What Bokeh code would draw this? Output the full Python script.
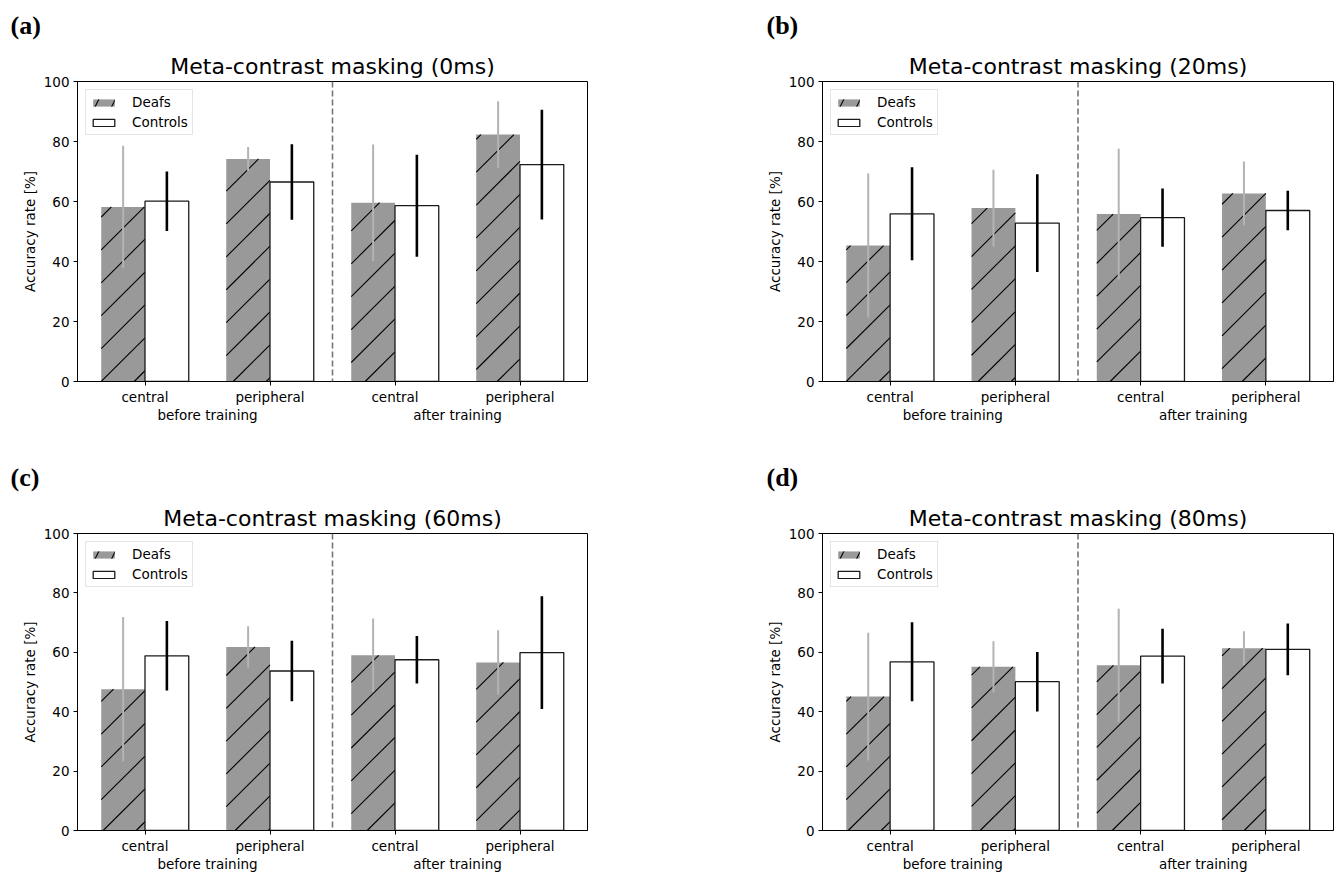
import math
from bokeh.plotting import figure
from bokeh.models import (ColumnDataSource, Range1d, FixedTicker, LinearAxis, Span,
                          Title, Legend, LegendItem)
from bokeh.layouts import column, row
from bokeh.embed import file_html
from bokeh.resources import INLINE

# ---------------- data ----------------
conditions = ["central", "peripheral", "central", "peripheral"]
phases = ["before training", "after training"]
delays = ["0ms", "20ms", "60ms", "80ms"]
panel_tags = ["(a)", "(b)", "(c)", "(d)"]
groups = ["Deafs", "Controls"]

deafs_0ms = [58.2, 74.2, 59.6, 82.3]
deafs_0ms_err = [20.4, 4.0, 19.4, 11.1]
controls_0ms = [60.1, 66.5, 58.6, 72.3]
controls_0ms_err = [9.9, 12.6, 17.0, 18.3]

deafs_20ms = [45.3, 57.8, 55.8, 62.7]
deafs_20ms_err = [24.0, 12.8, 21.8, 10.6]
controls_20ms = [55.9, 52.8, 54.6, 57.0]
controls_20ms_err = [15.5, 16.3, 9.7, 6.6]

deafs_60ms = [47.6, 61.8, 59.0, 56.6]
deafs_60ms_err = [24.3, 7.0, 12.4, 10.8]
controls_60ms = [58.8, 53.7, 57.5, 59.9]
controls_60ms_err = [11.7, 10.2, 8.0, 19.0]

deafs_80ms = [45.1, 55.1, 55.6, 61.4]
deafs_80ms_err = [21.5, 8.6, 19.1, 5.7]
controls_80ms = [56.8, 50.1, 58.7, 61.0]
controls_80ms_err = [13.3, 10.0, 9.2, 8.7]

y_ticks = [0, 20, 40, 60, 80, 100]

FONT = "DejaVu Sans"
BAR_W = 0.35
X0, X1 = -0.54, 3.54
Y0, Y1 = 0, 100
HATCH_SPACING = 33.0   # px between "/" hatch lines
HATCH_PHASE = 27.7


def hatch_segments(xc_list, tops, frame_w, frame_h):
    """45-degree '/' hatch lines (in screen space) clipped to each bar."""
    kx = frame_w / (X1 - X0)
    ky = frame_h / (Y1 - Y0)
    x0s, y0s, x1s, y1s = [], [], [], []
    for xc, top in zip(xc_list, tops):
        L = (xc - BAR_W / 2 - X0) * kx
        R = (xc + BAR_W / 2 - X0) * kx
        T = frame_h - (top - Y0) * ky
        B = frame_h - (0 - Y0) * ky
        k0 = math.ceil((L + T - HATCH_PHASE) / HATCH_SPACING)
        k1 = math.floor((R + B - HATCH_PHASE) / HATCH_SPACING)
        for k in range(k0, k1 + 1):
            c = HATCH_PHASE + k * HATCH_SPACING
            xs = max(L, c - B)
            xe = min(R, c - T)
            if xe - xs > 0.3:
                x0s.append(X0 + xs / kx)
                y0s.append(Y0 + (frame_h - (c - xs)) / ky)
                x1s.append(X0 + xe / kx)
                y1s.append(Y0 + (frame_h - (c - xe)) / ky)
    return dict(x0=x0s, y0=y0s, x1=x1s, y1=y1s)


def make_panel(tag, delay, deaf, deaf_err, ctrl, ctrl_err,
               width, height, bl, br, bt, bb, tag_offset, frame_h):
    p = figure(width=width, height=height,
               x_range=Range1d(X0, X1), y_range=Range1d(Y0, Y1),
               output_backend="svg", toolbar_location=None,
               min_border_left=bl, min_border_right=br,
               min_border_top=bt, min_border_bottom=bb)
    p.title_location = None
    p.grid.visible = False
    p.outline_line_color = "black"
    p.outline_line_width = 1
    p.background_fill_color = "white"
    p.border_fill_color = "white"

    main_title = Title(text="Meta-contrast masking (%s)" % delay, align="center",
                       text_font=FONT, text_font_size="22px",
                       text_font_style="normal", text_color="black", standoff=6)
    tag_title = Title(text=tag, align="left", offset=tag_offset,
                      text_font="Liberation Serif", text_font_size="26px",
                      text_font_style="bold", text_color="black", standoff=17)
    p.add_layout(main_title, "above")
    p.add_layout(tag_title, "above")

    frame_w = width - bl - br
    xs = list(range(len(conditions)))
    deaf_x = [i - BAR_W / 2 for i in xs]
    ctrl_x = [i + BAR_W / 2 for i in xs]
    deaf_src = ColumnDataSource(dict(
        x=deaf_x, top=deaf,
        lo=[v - e for v, e in zip(deaf, deaf_err)],
        hi=[v + e for v, e in zip(deaf, deaf_err)]))
    ctrl_src = ColumnDataSource(dict(
        x=ctrl_x, top=ctrl,
        lo=[v - e for v, e in zip(ctrl, ctrl_err)],
        hi=[v + e for v, e in zip(ctrl, ctrl_err)]))
    hatch_src = ColumnDataSource(hatch_segments(deaf_x, deaf, frame_w, frame_h))

    p.vbar(x="x", top="top", bottom=0, width=BAR_W, source=deaf_src,
           fill_color="#999999", line_color=None)
    p.segment(x0="x0", y0="y0", x1="x1", y1="y1", source=hatch_src,
              line_color="black", line_width=1.1)
    r_ctrl = p.vbar(x="x", top="top", bottom=0, width=BAR_W, source=ctrl_src,
                    fill_color="white", line_color="#1a1a1a", line_width=1.3)
    p.segment(x0="x", y0="lo", x1="x", y1="hi", source=deaf_src,
              line_color="#b3b3b3", line_width=2)
    p.segment(x0="x", y0="lo", x1="x", y1="hi", source=ctrl_src,
              line_color="black", line_width=2.6)
    # hidden, legend-only proxy for the hatched Deafs patch
    r_deaf_leg = p.vbar(x="x", top="top", bottom=0, width=BAR_W, source=deaf_src,
                        fill_color="#999999", line_color=None,
                        hatch_pattern="/", hatch_color="black", hatch_scale=33,
                        hatch_weight=1.1, visible=False)

    p.add_layout(Span(location=1.5, dimension="height", line_color="#777777",
                      line_width=1.6, line_dash="6 3"))

    # axes
    xa = p.xaxis[0]
    xa.ticker = FixedTicker(ticks=xs)
    xa.major_label_overrides = {i: c for i, c in zip(xs, conditions)}
    xa.major_label_text_font = FONT
    xa.major_label_text_font_size = "13.5px"
    xa.major_label_text_color = "black"
    xa.major_tick_out = 4
    xa.major_tick_in = 0
    xa.minor_tick_line_color = None
    xa.major_label_standoff = 3
    xa.axis_line_color = "black"

    ga = LinearAxis(ticker=FixedTicker(ticks=[0.5, 2.5]),
                    major_label_overrides={0.5: phases[0], 2.5: phases[1]},
                    axis_line_color=None, major_tick_line_color=None,
                    major_tick_out=0, major_tick_in=0,
                    minor_tick_line_color=None, major_label_standoff=-1,
                    major_label_text_font=FONT, major_label_text_font_size="13.5px",
                    major_label_text_color="black")
    p.add_layout(ga, "below")

    ya = p.yaxis[0]
    ya.ticker = FixedTicker(ticks=y_ticks)
    ya.major_label_text_font = FONT
    ya.major_label_text_font_size = "13.5px"
    ya.major_label_text_color = "black"
    ya.major_tick_out = 4
    ya.major_tick_in = 0
    ya.minor_tick_line_color = None
    ya.major_label_standoff = 4
    ya.axis_line_color = "black"
    ya.axis_label = "Accuracy rate [%]"
    ya.axis_label_text_font = FONT
    ya.axis_label_text_font_size = "13.5px"
    ya.axis_label_text_font_style = "normal"
    ya.axis_label_text_color = "black"
    ya.axis_label_standoff = 3

    legend = Legend(items=[LegendItem(label=groups[0], renderers=[r_deaf_leg]),
                           LegendItem(label=groups[1], renderers=[r_ctrl])],
                    location="top_left", margin=8, padding=4, spacing=4,
                    glyph_width=27, glyph_height=9, label_height=16,
                    label_standoff=15, label_text_font=FONT,
                    label_text_font_size="13.5px", label_text_color="black",
                    border_line_color="#cccccc", border_line_width=1,
                    background_fill_alpha=0.8, inactive_fill_alpha=0.0)
    p.add_layout(legend)
    return p


H1, H2 = 452, 422
pa = make_panel(panel_tags[0], delays[0], deafs_0ms, deafs_0ms_err,
                controls_0ms, controls_0ms_err, 672, H1, 77, 85, 80, 71, -67, 301)
pb = make_panel(panel_tags[1], delays[1], deafs_20ms, deafs_20ms_err,
                controls_20ms, controls_20ms_err, 672, H1, 150, 11, 80, 71, -56, 301)
pc = make_panel(panel_tags[2], delays[2], deafs_60ms, deafs_60ms_err,
                controls_60ms, controls_60ms_err, 672, H2, 77, 85, 80, 41, -67, 299)
pd = make_panel(panel_tags[3], delays[3], deafs_80ms, deafs_80ms_err,
                controls_80ms, controls_80ms_err, 672, H2, 150, 11, 80, 41, -56, 299)

layout = column(row(pa, pb), row(pc, pd))
open("out.html", "w").write(file_html(layout, INLINE))
